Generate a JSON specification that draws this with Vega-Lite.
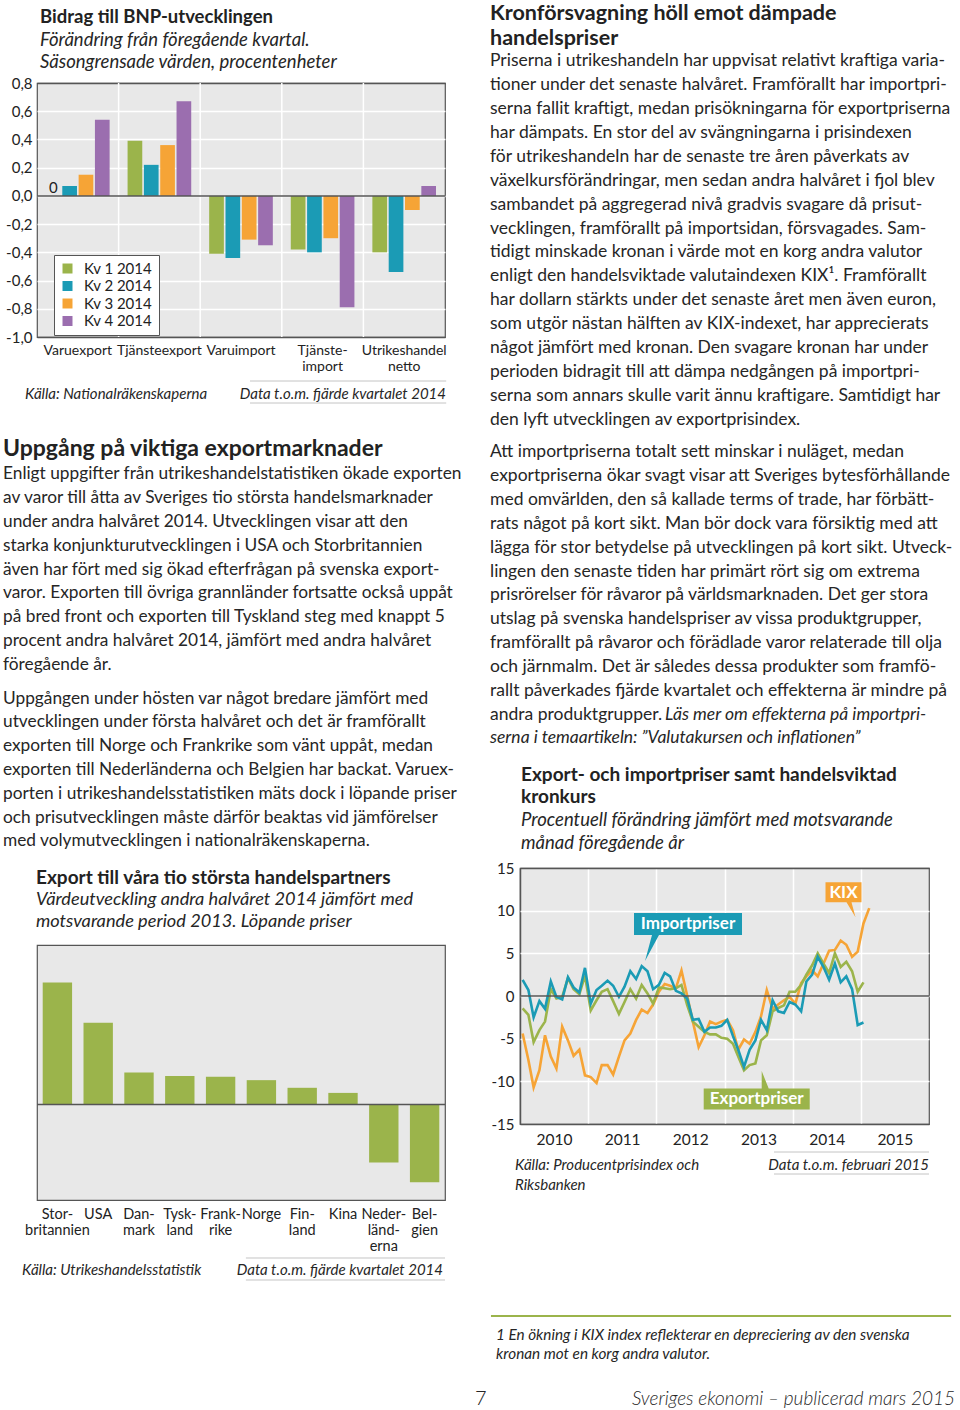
{
"$schema": "https://vega.github.io/schema/vega-lite/v6.json",
"background": "white",
"padding": {"left": 3, "top": 0, "right": 0, "bottom": 0},
"config": {
  "view": {"stroke": null},
  "font": "Lato",
  "axis": {"labelFont": "Lato", "labelColor": "#222222"},
  "legend": {"labelFont": "Lato"},
  "text": {"font": "Lato", "color": "#262626", "align": "left", "baseline": "middle", "dy": 1.5}
},
"datasets": {
 "bnp": [
 {"komponent": "Varuexport", "kvartal": "Kv 1 2014", "varde": 0},
 {"komponent": "Varuexport", "kvartal": "Kv 2 2014", "varde": 0.07},
 {"komponent": "Varuexport", "kvartal": "Kv 3 2014", "varde": 0.15},
 {"komponent": "Varuexport", "kvartal": "Kv 4 2014", "varde": 0.54},
 {"komponent": "Tjänsteexport", "kvartal": "Kv 1 2014", "varde": 0.39},
 {"komponent": "Tjänsteexport", "kvartal": "Kv 2 2014", "varde": 0.22},
 {"komponent": "Tjänsteexport", "kvartal": "Kv 3 2014", "varde": 0.36},
 {"komponent": "Tjänsteexport", "kvartal": "Kv 4 2014", "varde": 0.67},
 {"komponent": "Varuimport", "kvartal": "Kv 1 2014", "varde": -0.41},
 {"komponent": "Varuimport", "kvartal": "Kv 2 2014", "varde": -0.44},
 {"komponent": "Varuimport", "kvartal": "Kv 3 2014", "varde": -0.31},
 {"komponent": "Varuimport", "kvartal": "Kv 4 2014", "varde": -0.35},
 {"komponent": "Tjänsteimport", "kvartal": "Kv 1 2014", "varde": -0.38},
 {"komponent": "Tjänsteimport", "kvartal": "Kv 2 2014", "varde": -0.40},
 {"komponent": "Tjänsteimport", "kvartal": "Kv 3 2014", "varde": -0.30},
 {"komponent": "Tjänsteimport", "kvartal": "Kv 4 2014", "varde": -0.79},
 {"komponent": "Utrikeshandel netto", "kvartal": "Kv 1 2014", "varde": -0.40},
 {"komponent": "Utrikeshandel netto", "kvartal": "Kv 2 2014", "varde": -0.54},
 {"komponent": "Utrikeshandel netto", "kvartal": "Kv 3 2014", "varde": -0.10},
 {"komponent": "Utrikeshandel netto", "kvartal": "Kv 4 2014", "varde": 0.07}
 ]
},
"resolve": {"scale": {"color": "independent", "shape": "independent"}, "legend": {"color": "independent", "shape": "independent"}},
"spacing": 13,
"hconcat": [
{
"spacing": 0, "bounds": "flush",
"resolve": {"scale": {"color": "independent"}, "legend": {"color": "independent"}},
"vconcat": [
{
"width": 408, "height": 83,
"layer": [
{"data": {"values": [{"n": 0, "t": "Bidrag till BNP-utvecklingen"}]},
 "mark": {"type": "text", "fontSize": 18.5, "fontWeight": "bold", "color": "#222222", "dx": 3},
 "encoding": {"x": {"datum": 0, "type": "quantitative", "scale": {"domain": [0, 1]}, "axis": null},
  "y": {"field": "n", "type": "quantitative", "scale": {"domain": [-0.719, 3.011], "reverse": true, "nice": false, "zero": false}, "axis": null},
  "text": {"field": "t"}}},
{"data": {"values": [{"n": 1, "t": "Förändring från föregående kvartal."}, {"n": 2, "t": "Säsongrensade värden, procentenheter"}]},
 "mark": {"type": "text", "fontSize": 18.5, "fontStyle": "italic", "dx": 3},
 "encoding": {"x": {"datum": 0, "type": "quantitative", "scale": {"domain": [0, 1]}, "axis": null},
  "y": {"field": "n", "type": "quantitative", "scale": {"domain": [-0.719, 3.011], "reverse": true, "nice": false, "zero": false}, "axis": null},
  "text": {"field": "t"}}}
]
},
{
"width": 408, "height": 254,
"view": {"fill": "#e8e8e8", "stroke": "#555555", "strokeWidth": 1.2},
"layer": [
{"data": {"name": "bnp"},
 "mark": {"type": "bar"},
 "encoding": {
  "x": {"field": "komponent", "type": "nominal", "sort": ["Varuexport", "Tjänsteexport", "Varuimport", "Tjänsteimport", "Utrikeshandel netto"], "scale": {"paddingInner": 0, "paddingOuter": 0},
   "axis": {"title": null, "labelAngle": 0, "ticks": false, "domain": false, "grid": false, "labelFontSize": 14, "labelPadding": 6, "labelLineHeight": 16.5,
    "labelExpr": "datum.label == 'Tjänsteimport' ? ['Tjänste-', 'import'] : datum.label == 'Utrikeshandel netto' ? ['Utrikeshandel', 'netto'] : datum.label"}},
  "xOffset": {"field": "kvartal", "type": "nominal", "sort": ["Kv 1 2014", "Kv 2 2014", "Kv 3 2014", "Kv 4 2014"], "scale": {"paddingInner": 0.1, "paddingOuter": 0.55}},
  "y": {"field": "varde", "type": "quantitative", "scale": {"domain": [-1, 0.8], "nice": false},
   "axis": {"title": null, "values": [-1, -0.8, -0.6, -0.4, -0.2, 0, 0.2, 0.4, 0.6, 0.8],
    "labelExpr": "replace(replace(format(datum.value, '.1f'), '.', ','), '−', '-')", "labelOverlap": false,
    "grid": true, "gridColor": {"condition": {"test": "datum.value < -0.99 || datum.value > 0.79", "value": "#555555"}, "value": "#ffffff"}, "gridWidth": 1.5,
    "ticks": false, "domain": false, "labelFontSize": 15, "labelPadding": 5}},
  "color": {"field": "kvartal", "type": "nominal",
   "scale": {"domain": ["Kv 1 2014", "Kv 2 2014", "Kv 3 2014", "Kv 4 2014"], "range": ["#9bb44b", "#1b9bb5", "#f6a436", "#9b6eaf"]},
   "legend": {"orient": "none", "legendX": 17, "legendY": 172, "title": null, "fillColor": "#ffffff", "strokeColor": "#555555", "padding": 6,
    "symbolType": "square", "symbolSize": 100, "symbolStrokeWidth": 0, "labelFontSize": 15, "labelColor": "#222222", "rowPadding": 1.5, "labelOffset": 9}}
 }},
{"data": {"name": "bnp"},
 "transform": [{"filter": "datum.kvartal == 'Kv 1 2014' && datum.komponent != 'Varuexport'"}],
 "mark": {"type": "rule", "color": "#ffffff", "strokeWidth": 1.5},
 "encoding": {"x": {"field": "komponent", "type": "nominal", "bandPosition": 0, "sort": ["Varuexport", "Tjänsteexport", "Varuimport", "Tjänsteimport", "Utrikeshandel netto"], "scale": {"paddingInner": 0, "paddingOuter": 0},
   "axis": {"title": null, "labelAngle": 0, "ticks": false, "domain": false, "grid": false, "labelFontSize": 14, "labelPadding": 6, "labelLineHeight": 16.5,
    "labelExpr": "datum.label == 'Tjänsteimport' ? ['Tjänste-', 'import'] : datum.label == 'Utrikeshandel netto' ? ['Utrikeshandel', 'netto'] : datum.label"}}}},
{"data": {"values": [{}]},
 "mark": {"type": "rule", "color": "#555555", "strokeWidth": 1.5},
 "encoding": {"y": {"datum": 0, "type": "quantitative", "scale": {"domain": [-1, 0.8], "nice": false},
   "axis": {"title": null, "values": [-1, -0.8, -0.6, -0.4, -0.2, 0, 0.2, 0.4, 0.6, 0.8],
    "labelExpr": "replace(replace(format(datum.value, '.1f'), '.', ','), '−', '-')", "labelOverlap": false,
    "grid": true, "gridColor": {"condition": {"test": "datum.value < -0.99 || datum.value > 0.79", "value": "#555555"}, "value": "#ffffff"}, "gridWidth": 1.5,
    "ticks": false, "domain": false, "labelFontSize": 15, "labelPadding": 5}}}},
{"data": {"name": "bnp"},
 "transform": [{"filter": "datum.varde == 0"}],
 "mark": {"type": "text", "fontSize": 15, "align": "center", "baseline": "alphabetic", "dy": -3, "color": "#222222"},
 "encoding": {
  "x": {"field": "komponent", "type": "nominal", "sort": ["Varuexport", "Tjänsteexport", "Varuimport", "Tjänsteimport", "Utrikeshandel netto"], "scale": {"paddingInner": 0, "paddingOuter": 0},
   "axis": {"title": null, "labelAngle": 0, "ticks": false, "domain": false, "grid": false, "labelFontSize": 14, "labelPadding": 6, "labelLineHeight": 16.5,
    "labelExpr": "datum.label == 'Tjänsteimport' ? ['Tjänste-', 'import'] : datum.label == 'Utrikeshandel netto' ? ['Utrikeshandel', 'netto'] : datum.label"}},
  "xOffset": {"field": "kvartal", "type": "nominal", "sort": ["Kv 1 2014", "Kv 2 2014", "Kv 3 2014", "Kv 4 2014"], "scale": {"paddingInner": 0.1, "paddingOuter": 0.55}},
  "y": {"field": "varde", "type": "quantitative", "scale": {"domain": [-1, 0.8], "nice": false},
   "axis": {"title": null, "values": [-1, -0.8, -0.6, -0.4, -0.2, 0, 0.2, 0.4, 0.6, 0.8],
    "labelExpr": "replace(replace(format(datum.value, '.1f'), '.', ','), '−', '-')", "labelOverlap": false,
    "grid": true, "gridColor": {"condition": {"test": "datum.value < -0.99 || datum.value > 0.79", "value": "#555555"}, "value": "#ffffff"}, "gridWidth": 1.5,
    "ticks": false, "domain": false, "labelFontSize": 15, "labelPadding": 5}},
  "text": {"value": "0"}}}
]
},
{
"width": 408, "height": 99,
"layer": [
{"data": {"values": [{"n": 0, "t": "Källa: Nationalräkenskaperna"}]},
 "mark": {"type": "text", "fontSize": 15, "fontStyle": "italic", "dx": -12},
 "encoding": {"x": {"datum": 0, "type": "quantitative", "scale": {"domain": [0, 1]}, "axis": null},
  "y": {"field": "n", "type": "quantitative", "scale": {"domain": [-2.5, 2.0], "reverse": true, "nice": false, "zero": false}, "axis": null},
  "text": {"field": "t"}}},
{"data": {"values": [{"n": 0, "t": "Data t.o.m. fjärde kvartalet 2014"}]},
 "mark": {"type": "text", "fontSize": 15, "fontStyle": "italic", "align": "right", "dx": 1},
 "encoding": {"x": {"datum": 1, "type": "quantitative", "scale": {"domain": [0, 1]}, "axis": null},
  "y": {"field": "n", "type": "quantitative", "scale": {"domain": [-2.5, 2.0], "reverse": true, "nice": false, "zero": false}, "axis": null},
  "text": {"field": "t"}}},
{"data": {"values": [{}]},
 "mark": {"type": "rule", "color": "#c4c4c4", "strokeWidth": 1},
 "encoding": {"x": {"datum": 0.522, "type": "quantitative", "scale": {"domain": [0, 1]}, "axis": null}, "x2": {"datum": 1.003},
  "y": {"datum": -0.5, "type": "quantitative", "scale": {"domain": [-2.5, 2.0], "reverse": true, "nice": false, "zero": false}, "axis": null}}},
{"data": {"values": [{}]},
 "mark": {"type": "rule", "color": "#c4c4c4", "strokeWidth": 1},
 "encoding": {"x": {"datum": 0.522, "type": "quantitative", "scale": {"domain": [0, 1]}, "axis": null}, "x2": {"datum": 1.003},
  "y": {"datum": 0.5, "type": "quantitative", "scale": {"domain": [-2.5, 2.0], "reverse": true, "nice": false, "zero": false}, "axis": null}}}
]
},
{
"width": 408, "height": 25,
"data": {"values": [{"n": 0, "t": "Uppgång på viktiga exportmarknader"}]},
"mark": {"type": "text", "fontSize": 23, "fontWeight": "bold", "color": "#222222", "dx": -34},
"encoding": {"x": {"datum": 0, "type": "quantitative", "scale": {"domain": [0, 1]}, "axis": null},
 "y": {"field": "n", "type": "quantitative", "scale": {"domain": [-0.5, 0.5417], "reverse": true, "nice": false, "zero": false}, "axis": null},
 "text": {"field": "t"}}
},
{
"width": 408, "height": 224,
"data": {"values": [
 {"n": 0, "t": "Enligt uppgifter från utrikeshandelstatistiken ökade exporten"},
 {"n": 1, "t": "av varor till åtta av Sveriges tio största handelsmarknader"},
 {"n": 2, "t": "under andra halvåret 2014. Utvecklingen visar att den"},
 {"n": 3, "t": "starka konjunkturutvecklingen i USA och Storbritannien"},
 {"n": 4, "t": "även har fört med sig ökad efterfrågan på svenska export-"},
 {"n": 5, "t": "varor. Exporten till övriga grannländer fortsatte också uppåt"},
 {"n": 6, "t": "på bred front och exporten till Tyskland steg med knappt 5"},
 {"n": 7, "t": "procent andra halvåret 2014, jämfört med andra halvåret"},
 {"n": 8, "t": "föregående år."}
]},
"mark": {"type": "text", "fontSize": 17.3, "dx": -34},
"encoding": {"x": {"datum": 0, "type": "quantitative", "scale": {"domain": [0, 1]}, "axis": null},
 "y": {"field": "n", "type": "quantitative", "scale": {"domain": [-0.505, 8.926], "reverse": true, "nice": false, "zero": false}, "axis": null},
 "text": {"field": "t"}}
},
{
"width": 408, "height": 181,
"data": {"values": [
 {"n": 0, "t": "Uppgången under hösten var något bredare jämfört med"},
 {"n": 1, "t": "utvecklingen under första halvåret och det är framförallt"},
 {"n": 2, "t": "exporten till Norge och Frankrike som vänt uppåt, medan"},
 {"n": 3, "t": "exporten till Nederländerna och Belgien har backat. Varuex-"},
 {"n": 4, "t": "porten i utrikeshandelsstatistiken mäts dock i löpande priser"},
 {"n": 5, "t": "och prisutvecklingen måste därför beaktas vid jämförelser"},
 {"n": 6, "t": "med volymutvecklingen i nationalräkenskaperna."}
]},
"mark": {"type": "text", "fontSize": 17.3, "dx": -34},
"encoding": {"x": {"datum": 0, "type": "quantitative", "scale": {"domain": [0, 1]}, "axis": null},
 "y": {"field": "n", "type": "quantitative", "scale": {"domain": [-0.5036, 7.092], "reverse": true, "nice": false, "zero": false}, "axis": null},
 "text": {"field": "t"}}
},
{
"width": 408, "height": 79,
"layer": [
{"data": {"values": [{"n": 0, "t": "Export till våra tio största handelspartners"}]},
 "mark": {"type": "text", "fontSize": 19, "fontWeight": "bold", "color": "#222222", "dx": -1},
 "encoding": {"x": {"datum": 0, "type": "quantitative", "scale": {"domain": [0, 1]}, "axis": null},
  "y": {"field": "n", "type": "quantitative", "scale": {"domain": [-0.4545, 3.136], "reverse": true, "nice": false, "zero": false}, "axis": null},
  "text": {"field": "t"}}},
{"data": {"values": [{"n": 1, "t": "Värdeutveckling andra halvåret 2014 jämfört med"}, {"n": 2, "t": "motsvarande period 2013. Löpande priser"}]},
 "mark": {"type": "text", "fontSize": 18.2, "fontStyle": "italic", "dx": -1},
 "encoding": {"x": {"datum": 0, "type": "quantitative", "scale": {"domain": [0, 1]}, "axis": null},
  "y": {"field": "n", "type": "quantitative", "scale": {"domain": [-0.4545, 3.136], "reverse": true, "nice": false, "zero": false}, "axis": null},
  "text": {"field": "t"}}}
]
},
{
"width": 408, "height": 255,
"view": {"fill": "#e8e8e8", "stroke": "#555555", "strokeWidth": 1.2},
"layer": [
{"data": {"values": [
  {"land": "Storbritannien", "forandring": 19.1},
  {"land": "USA", "forandring": 12.8},
  {"land": "Danmark", "forandring": 5.0},
  {"land": "Tyskland", "forandring": 4.45},
  {"land": "Frankrike", "forandring": 4.35},
  {"land": "Norge", "forandring": 3.8},
  {"land": "Finland", "forandring": 2.6},
  {"land": "Kina", "forandring": 1.8},
  {"land": "Nederländerna", "forandring": -9.1},
  {"land": "Belgien", "forandring": -12.2}
 ]},
 "mark": {"type": "bar", "color": "#9bb44b"},
 "encoding": {
  "x": {"field": "land", "type": "nominal", "sort": null, "scale": {"paddingInner": 0.28, "paddingOuter": 0.14},
   "axis": {"title": null, "labelAngle": 0, "ticks": false, "domain": false, "grid": false, "labelFontSize": 14.5, "labelPadding": 7, "labelLineHeight": 16,
    "labelExpr": "datum.label == 'Storbritannien' ? ['Stor-', 'britannien'] : datum.label == 'Danmark' ? ['Dan-', 'mark'] : datum.label == 'Tyskland' ? ['Tysk-', 'land'] : datum.label == 'Frankrike' ? ['Frank-', 'rike'] : datum.label == 'Finland' ? ['Fin-', 'land'] : datum.label == 'Nederländerna' ? ['Neder-', 'länd-', 'erna'] : datum.label == 'Belgien' ? ['Bel-', 'gien'] : datum.label"}},
  "y": {"field": "forandring", "type": "quantitative", "scale": {"domain": [-15, 25], "nice": false},
   "axis": {"title": null, "values": [-15, -10, -5, 0, 5, 10, 15, 20, 25],
    "labelExpr": "replace(format(datum.value, 'd'), '−', '-')", "labelOverlap": false,
    "grid": true, "gridColor": {"condition": {"test": "datum.value < -14 || datum.value > 24", "value": "#555555"}, "value": "#ffffff"}, "gridWidth": 1.5,
    "ticks": false, "domain": false, "labelFontSize": 15, "labelPadding": 6}}
 }},
{"data": {"values": [{}]},
 "mark": {"type": "rule", "color": "#555555", "strokeWidth": 1.5},
 "encoding": {"y": {"datum": 0, "type": "quantitative", "scale": {"domain": [-15, 25], "nice": false}, "axis": null}}}
]
},
{
"width": 408, "height": 210,
"layer": [
{"data": {"values": [{"n": 0, "t": "Källa: Utrikeshandelsstatistik"}]},
 "mark": {"type": "text", "fontSize": 15, "fontStyle": "italic", "dx": -15},
 "encoding": {"x": {"datum": 0, "type": "quantitative", "scale": {"domain": [0, 1]}, "axis": null},
  "y": {"field": "n", "type": "quantitative", "scale": {"domain": [-3.136, 6.409], "reverse": true, "nice": false, "zero": false}, "axis": null},
  "text": {"field": "t"}}},
{"data": {"values": [{"n": 0, "t": "Data t.o.m. fjärde kvartalet 2014"}]},
 "mark": {"type": "text", "fontSize": 15, "fontStyle": "italic", "align": "right", "dx": -2},
 "encoding": {"x": {"datum": 1, "type": "quantitative", "scale": {"domain": [0, 1]}, "axis": null},
  "y": {"field": "n", "type": "quantitative", "scale": {"domain": [-3.136, 6.409], "reverse": true, "nice": false, "zero": false}, "axis": null},
  "text": {"field": "t"}}},
{"data": {"values": [{}]},
 "mark": {"type": "rule", "color": "#c4c4c4", "strokeWidth": 1},
 "encoding": {"x": {"datum": 0.512, "type": "quantitative", "scale": {"domain": [0, 1]}, "axis": null}, "x2": {"datum": 1.0},
  "y": {"datum": -0.5, "type": "quantitative", "scale": {"domain": [-3.136, 6.409], "reverse": true, "nice": false, "zero": false}, "axis": null}}},
{"data": {"values": [{}]},
 "mark": {"type": "rule", "color": "#c4c4c4", "strokeWidth": 1},
 "encoding": {"x": {"datum": 0.512, "type": "quantitative", "scale": {"domain": [0, 1]}, "axis": null}, "x2": {"datum": 1.0},
  "y": {"datum": 0.5, "type": "quantitative", "scale": {"domain": [-3.136, 6.409], "reverse": true, "nice": false, "zero": false}, "axis": null}}}
]
}
]
},
{
"spacing": 0, "bounds": "flush",
"vconcat": [
{
"width": 409, "height": 48,
"data": {"values": [{"n": 0, "t": "Kronförsvagning höll emot dämpade"}, {"n": 1, "t": "handelspriser"}]},
"mark": {"type": "text", "fontSize": 21.5, "fontWeight": "bold", "color": "#222222", "dx": -30, "dy": 2},
"encoding": {"x": {"datum": 0, "type": "quantitative", "scale": {"domain": [0, 1]}, "axis": null},
 "y": {"field": "n", "type": "quantitative", "scale": {"domain": [-0.5102, 1.449], "reverse": true, "nice": false, "zero": false}, "axis": null},
 "text": {"field": "t"}}
},
{
"width": 409, "height": 390,
"data": {"values": [
 {"n": 0, "t": "Priserna i utrikeshandeln har uppvisat relativt kraftiga varia-"},
 {"n": 1, "t": "tioner under det senaste halvåret. Framförallt har importpri-"},
 {"n": 2, "t": "serna fallit kraftigt, medan prisökningarna för exportpriserna"},
 {"n": 3, "t": "har dämpats. En stor del av svängningarna i prisindexen"},
 {"n": 4, "t": "för utrikeshandeln har de senaste tre åren påverkats av"},
 {"n": 5, "t": "växelkursförändringar, men sedan andra halvåret i fjol blev"},
 {"n": 6, "t": "sambandet på aggregerad nivå gradvis svagare då prisut-"},
 {"n": 7, "t": "vecklingen, framförallt på importsidan, försvagades. Sam-"},
 {"n": 8, "t": "tidigt minskade kronan i värde mot en korg andra valutor"},
 {"n": 9, "t": "enligt den handelsviktade valutaindexen KIX¹. Framförallt"},
 {"n": 10, "t": "har dollarn stärkts under det senaste året men även euron,"},
 {"n": 11, "t": "som utgör nästan hälften av KIX-indexet, har apprecierats"},
 {"n": 12, "t": "något jämfört med kronan. Den svagare kronan har under"},
 {"n": 13, "t": "perioden bidragit till att dämpa nedgången på importpri-"},
 {"n": 14, "t": "serna som annars skulle varit ännu kraftigare. Samtidigt har"},
 {"n": 15, "t": "den lyft utvecklingen av exportprisindex."}
]},
"mark": {"type": "text", "fontSize": 17.5, "dx": -30},
"encoding": {"x": {"datum": 0, "type": "quantitative", "scale": {"domain": [0, 1]}, "axis": null},
 "y": {"field": "n", "type": "quantitative", "scale": {"domain": [-0.5027, 15.836], "reverse": true, "nice": false, "zero": false}, "axis": null},
 "text": {"field": "t"}}
},
{
"width": 409, "height": 322,
"layer": [
{"data": {"values": [
 {"n": 0, "t": "Att importpriserna totalt sett minskar i nuläget, medan"},
 {"n": 1, "t": "exportpriserna ökar svagt visar att Sveriges bytesförhållande"},
 {"n": 2, "t": "med omvärlden, den så kallade terms of trade, har förbätt-"},
 {"n": 3, "t": "rats något på kort sikt. Man bör dock vara försiktig med att"},
 {"n": 4, "t": "lägga för stor betydelse på utvecklingen på kort sikt. Utveck-"},
 {"n": 5, "t": "lingen den senaste tiden har primärt rört sig om extrema"},
 {"n": 6, "t": "prisrörelser för råvaror på världsmarknaden. Det ger stora"},
 {"n": 7, "t": "utslag på svenska handelspriser av vissa produktgrupper,"},
 {"n": 8, "t": "framförallt på råvaror och förädlade varor relaterade till olja"},
 {"n": 9, "t": "och järnmalm. Det är således dessa produkter som framfö-"},
 {"n": 10, "t": "rallt påverkades fjärde kvartalet och effekterna är mindre på"},
 {"n": 11, "t": "andra produktgrupper."}
 ]},
 "mark": {"type": "text", "fontSize": 17.5, "dx": -30},
 "encoding": {"x": {"datum": 0, "type": "quantitative", "scale": {"domain": [0, 1]}, "axis": null},
  "y": {"field": "n", "type": "quantitative", "scale": {"domain": [-0.5455, 12.967], "reverse": true, "nice": false, "zero": false}, "axis": null},
  "text": {"field": "t"}}},
{"data": {"values": [{"n": 11, "t": "Läs mer om effekterna på importpri-"}]},
 "mark": {"type": "text", "fontSize": 17.5, "fontStyle": "italic", "dx": 145},
 "encoding": {"x": {"datum": 0, "type": "quantitative", "scale": {"domain": [0, 1]}, "axis": null},
  "y": {"field": "n", "type": "quantitative", "scale": {"domain": [-0.5455, 12.967], "reverse": true, "nice": false, "zero": false}, "axis": null},
  "text": {"field": "t"}}},
{"data": {"values": [{"n": 12, "t": "serna i temaartikeln: ”Valutakursen och inflationen”"}]},
 "mark": {"type": "text", "fontSize": 17.5, "fontStyle": "italic", "dx": -30},
 "encoding": {"x": {"datum": 0, "type": "quantitative", "scale": {"domain": [0, 1]}, "axis": null},
  "y": {"field": "n", "type": "quantitative", "scale": {"domain": [-0.5455, 12.967], "reverse": true, "nice": false, "zero": false}, "axis": null},
  "text": {"field": "t"}}}
]
},
{
"width": 409, "height": 108,
"layer": [
{"data": {"values": [{"n": 0, "t": "Export- och importpriser samt handelsviktad"}, {"n": 1, "t": "kronkurs"}]},
 "mark": {"type": "text", "fontSize": 19, "fontWeight": "bold", "color": "#222222", "dx": 1},
 "encoding": {"x": {"datum": 0, "type": "quantitative", "scale": {"domain": [0, 1]}, "axis": null},
  "y": {"field": "n", "type": "quantitative", "scale": {"domain": [-0.5735, 4.19], "reverse": true, "nice": false, "zero": false}, "axis": null},
  "text": {"field": "t"}}},
{"data": {"values": [{"n": 2, "t": "Procentuell förändring jämfört med motsvarande"}, {"n": 3, "t": "månad föregående år"}]},
 "mark": {"type": "text", "fontSize": 18.5, "fontStyle": "italic", "dx": 1},
 "encoding": {"x": {"datum": 0, "type": "quantitative", "scale": {"domain": [0, 1]}, "axis": null},
  "y": {"field": "n", "type": "quantitative", "scale": {"domain": [-0.5735, 4.19], "reverse": true, "nice": false, "zero": false}, "axis": null},
  "text": {"field": "t"}}}
]
},
{
"width": 409, "height": 256,
"view": {"fill": "#e8e8e8", "stroke": "#555555", "strokeWidth": 1.2},
"layer": [
{"data": {"values": [
{"serie":"KIX","manad":"2010-01-15","varde":-4.4},{"serie":"KIX","manad":"2010-02-15","varde":-7.5},{"serie":"KIX","manad":"2010-03-15","varde":-10.7},{"serie":"KIX","manad":"2010-04-15","varde":-8.7},{"serie":"KIX","manad":"2010-05-15","varde":-4.6},{"serie":"KIX","manad":"2010-06-15","varde":-7.1},{"serie":"KIX","manad":"2010-07-15","varde":-8.5},{"serie":"KIX","manad":"2010-08-15","varde":-3.6},{"serie":"KIX","manad":"2010-09-15","varde":-5.2},{"serie":"KIX","manad":"2010-10-15","varde":-7.0},{"serie":"KIX","manad":"2010-11-15","varde":-6.3},{"serie":"KIX","manad":"2010-12-15","varde":-9.3},
{"serie":"KIX","manad":"2011-01-15","varde":-9.5},{"serie":"KIX","manad":"2011-02-15","varde":-10.2},{"serie":"KIX","manad":"2011-03-15","varde":-8.1},{"serie":"KIX","manad":"2011-04-15","varde":-8.1},{"serie":"KIX","manad":"2011-05-15","varde":-9.2},{"serie":"KIX","manad":"2011-06-15","varde":-7.1},{"serie":"KIX","manad":"2011-07-15","varde":-5.2},{"serie":"KIX","manad":"2011-08-15","varde":-4.4},{"serie":"KIX","manad":"2011-09-15","varde":-2.8},{"serie":"KIX","manad":"2011-10-15","varde":-1.6},{"serie":"KIX","manad":"2011-11-15","varde":-2.0},{"serie":"KIX","manad":"2011-12-15","varde":-1.0},
{"serie":"KIX","manad":"2012-01-15","varde":0.5},{"serie":"KIX","manad":"2012-02-15","varde":1.4},{"serie":"KIX","manad":"2012-03-15","varde":1.2},{"serie":"KIX","manad":"2012-04-15","varde":0.9},{"serie":"KIX","manad":"2012-05-15","varde":3.0},{"serie":"KIX","manad":"2012-06-15","varde":0.0},{"serie":"KIX","manad":"2012-07-15","varde":-3.0},{"serie":"KIX","manad":"2012-08-15","varde":-6.0},{"serie":"KIX","manad":"2012-09-15","varde":-4.6},{"serie":"KIX","manad":"2012-10-15","varde":-3.0},{"serie":"KIX","manad":"2012-11-15","varde":-3.3},{"serie":"KIX","manad":"2012-12-15","varde":-3.0},
{"serie":"KIX","manad":"2013-01-15","varde":-2.8},{"serie":"KIX","manad":"2013-02-15","varde":-4.0},{"serie":"KIX","manad":"2013-03-15","varde":-6.3},{"serie":"KIX","manad":"2013-04-15","varde":-5.1},{"serie":"KIX","manad":"2013-05-15","varde":-5.6},{"serie":"KIX","manad":"2013-06-15","varde":-4.2},{"serie":"KIX","manad":"2013-07-15","varde":-2.4},{"serie":"KIX","manad":"2013-08-15","varde":0.7},{"serie":"KIX","manad":"2013-09-15","varde":-1.5},{"serie":"KIX","manad":"2013-10-15","varde":-1.0},{"serie":"KIX","manad":"2013-11-15","varde":-0.5},{"serie":"KIX","manad":"2013-12-15","varde":-0.1},
{"serie":"KIX","manad":"2014-01-15","varde":-0.9},{"serie":"KIX","manad":"2014-02-15","varde":1.5},{"serie":"KIX","manad":"2014-03-15","varde":2.3},{"serie":"KIX","manad":"2014-04-15","varde":3.0},{"serie":"KIX","manad":"2014-05-15","varde":2.3},{"serie":"KIX","manad":"2014-06-15","varde":3.8},{"serie":"KIX","manad":"2014-07-15","varde":5.3},{"serie":"KIX","manad":"2014-08-15","varde":5.4},{"serie":"KIX","manad":"2014-09-15","varde":6.5},{"serie":"KIX","manad":"2014-10-15","varde":6.0},{"serie":"KIX","manad":"2014-11-15","varde":4.6},{"serie":"KIX","manad":"2014-12-15","varde":5.2},
{"serie":"KIX","manad":"2015-01-15","varde":8.5},{"serie":"KIX","manad":"2015-02-15","varde":10.3},
{"serie":"Exportpriser","manad":"2010-01-15","varde":-1.45},{"serie":"Exportpriser","manad":"2010-02-15","varde":-2.2},{"serie":"Exportpriser","manad":"2010-03-15","varde":-5.4},{"serie":"Exportpriser","manad":"2010-04-15","varde":-4.0},{"serie":"Exportpriser","manad":"2010-05-15","varde":-3.0},{"serie":"Exportpriser","manad":"2010-06-15","varde":0.8},{"serie":"Exportpriser","manad":"2010-07-15","varde":-0.3},{"serie":"Exportpriser","manad":"2010-08-15","varde":-0.1},{"serie":"Exportpriser","manad":"2010-09-15","varde":2.1},{"serie":"Exportpriser","manad":"2010-10-15","varde":0.8},{"serie":"Exportpriser","manad":"2010-11-15","varde":0.2},{"serie":"Exportpriser","manad":"2010-12-15","varde":2.4},
{"serie":"Exportpriser","manad":"2011-01-15","varde":-1.7},{"serie":"Exportpriser","manad":"2011-02-15","varde":-0.5},{"serie":"Exportpriser","manad":"2011-03-15","varde":0.5},{"serie":"Exportpriser","manad":"2011-04-15","varde":0.8},{"serie":"Exportpriser","manad":"2011-05-15","varde":-0.6},{"serie":"Exportpriser","manad":"2011-06-15","varde":-2.1},{"serie":"Exportpriser","manad":"2011-07-15","varde":-0.7},{"serie":"Exportpriser","manad":"2011-08-15","varde":0.8},{"serie":"Exportpriser","manad":"2011-09-15","varde":-0.3},{"serie":"Exportpriser","manad":"2011-10-15","varde":1.3},{"serie":"Exportpriser","manad":"2011-11-15","varde":0.3},{"serie":"Exportpriser","manad":"2011-12-15","varde":-0.9},
{"serie":"Exportpriser","manad":"2012-01-15","varde":1.0},{"serie":"Exportpriser","manad":"2012-02-15","varde":0.9},{"serie":"Exportpriser","manad":"2012-03-15","varde":0.8},{"serie":"Exportpriser","manad":"2012-04-15","varde":0.9},{"serie":"Exportpriser","manad":"2012-05-15","varde":1.3},{"serie":"Exportpriser","manad":"2012-06-15","varde":-1.1},{"serie":"Exportpriser","manad":"2012-07-15","varde":-3.0},{"serie":"Exportpriser","manad":"2012-08-15","varde":-3.6},{"serie":"Exportpriser","manad":"2012-09-15","varde":-4.2},{"serie":"Exportpriser","manad":"2012-10-15","varde":-4.5},{"serie":"Exportpriser","manad":"2012-11-15","varde":-4.5},{"serie":"Exportpriser","manad":"2012-12-15","varde":-4.9},
{"serie":"Exportpriser","manad":"2013-01-15","varde":-5.0},{"serie":"Exportpriser","manad":"2013-02-15","varde":-5.6},{"serie":"Exportpriser","manad":"2013-03-15","varde":-7.1},{"serie":"Exportpriser","manad":"2013-04-15","varde":-8.7},{"serie":"Exportpriser","manad":"2013-05-15","varde":-8.1},{"serie":"Exportpriser","manad":"2013-06-15","varde":-7.9},{"serie":"Exportpriser","manad":"2013-07-15","varde":-5.2},{"serie":"Exportpriser","manad":"2013-08-15","varde":-4.6},{"serie":"Exportpriser","manad":"2013-09-15","varde":-1.8},{"serie":"Exportpriser","manad":"2013-10-15","varde":-1.4},{"serie":"Exportpriser","manad":"2013-11-15","varde":-1.1},{"serie":"Exportpriser","manad":"2013-12-15","varde":0.5},
{"serie":"Exportpriser","manad":"2014-01-15","varde":0.5},{"serie":"Exportpriser","manad":"2014-02-15","varde":1.3},{"serie":"Exportpriser","manad":"2014-03-15","varde":2.5},{"serie":"Exportpriser","manad":"2014-04-15","varde":3.6},{"serie":"Exportpriser","manad":"2014-05-15","varde":5.0},{"serie":"Exportpriser","manad":"2014-06-15","varde":3.8},{"serie":"Exportpriser","manad":"2014-07-15","varde":2.7},{"serie":"Exportpriser","manad":"2014-08-15","varde":5.0},{"serie":"Exportpriser","manad":"2014-09-15","varde":3.4},{"serie":"Exportpriser","manad":"2014-10-15","varde":4.0},{"serie":"Exportpriser","manad":"2014-11-15","varde":2.9},{"serie":"Exportpriser","manad":"2014-12-15","varde":0.5},
{"serie":"Exportpriser","manad":"2015-01-15","varde":1.6},
{"serie":"Importpriser","manad":"2010-01-15","varde":1.9},{"serie":"Importpriser","manad":"2010-02-15","varde":0.7},{"serie":"Importpriser","manad":"2010-03-15","varde":-2.5},{"serie":"Importpriser","manad":"2010-04-15","varde":-0.6},{"serie":"Importpriser","manad":"2010-05-15","varde":-1.5},{"serie":"Importpriser","manad":"2010-06-15","varde":1.7},{"serie":"Importpriser","manad":"2010-07-15","varde":-0.1},{"serie":"Importpriser","manad":"2010-08-15","varde":-0.4},{"serie":"Importpriser","manad":"2010-09-15","varde":2.2},{"serie":"Importpriser","manad":"2010-10-15","varde":1.0},{"serie":"Importpriser","manad":"2010-11-15","varde":0.4},{"serie":"Importpriser","manad":"2010-12-15","varde":3.3},
{"serie":"Importpriser","manad":"2011-01-15","varde":-0.9},{"serie":"Importpriser","manad":"2011-02-15","varde":0.7},{"serie":"Importpriser","manad":"2011-03-15","varde":1.2},{"serie":"Importpriser","manad":"2011-04-15","varde":1.8},{"serie":"Importpriser","manad":"2011-05-15","varde":1.2},{"serie":"Importpriser","manad":"2011-06-15","varde":-0.1},{"serie":"Importpriser","manad":"2011-07-15","varde":1.1},{"serie":"Importpriser","manad":"2011-08-15","varde":2.9},{"serie":"Importpriser","manad":"2011-09-15","varde":2.0},{"serie":"Importpriser","manad":"2011-10-15","varde":3.5},{"serie":"Importpriser","manad":"2011-11-15","varde":2.9},{"serie":"Importpriser","manad":"2011-12-15","varde":0.8},
{"serie":"Importpriser","manad":"2012-01-15","varde":1.3},{"serie":"Importpriser","manad":"2012-02-15","varde":2.7},{"serie":"Importpriser","manad":"2012-03-15","varde":2.3},{"serie":"Importpriser","manad":"2012-04-15","varde":0.6},{"serie":"Importpriser","manad":"2012-05-15","varde":0.3},{"serie":"Importpriser","manad":"2012-06-15","varde":-0.3},{"serie":"Importpriser","manad":"2012-07-15","varde":-2.8},{"serie":"Importpriser","manad":"2012-08-15","varde":-2.7},{"serie":"Importpriser","manad":"2012-09-15","varde":-4.2},{"serie":"Importpriser","manad":"2012-10-15","varde":-3.7},{"serie":"Importpriser","manad":"2012-11-15","varde":-3.7},{"serie":"Importpriser","manad":"2012-12-15","varde":-3.5},
{"serie":"Importpriser","manad":"2013-01-15","varde":-2.8},{"serie":"Importpriser","manad":"2013-02-15","varde":-4.7},{"serie":"Importpriser","manad":"2013-03-15","varde":-6.3},{"serie":"Importpriser","manad":"2013-04-15","varde":-8.3},{"serie":"Importpriser","manad":"2013-05-15","varde":-6.3},{"serie":"Importpriser","manad":"2013-06-15","varde":-5.2},{"serie":"Importpriser","manad":"2013-07-15","varde":-2.8},{"serie":"Importpriser","manad":"2013-08-15","varde":-4.0},{"serie":"Importpriser","manad":"2013-09-15","varde":-0.5},{"serie":"Importpriser","manad":"2013-10-15","varde":-1.8},{"serie":"Importpriser","manad":"2013-11-15","varde":-2.0},{"serie":"Importpriser","manad":"2013-12-15","varde":-0.7},
{"serie":"Importpriser","manad":"2014-01-15","varde":-1.0},{"serie":"Importpriser","manad":"2014-02-15","varde":-1.8},{"serie":"Importpriser","manad":"2014-03-15","varde":1.7},{"serie":"Importpriser","manad":"2014-04-15","varde":2.5},{"serie":"Importpriser","manad":"2014-05-15","varde":4.6},{"serie":"Importpriser","manad":"2014-06-15","varde":3.4},{"serie":"Importpriser","manad":"2014-07-15","varde":1.9},{"serie":"Importpriser","manad":"2014-08-15","varde":3.8},{"serie":"Importpriser","manad":"2014-09-15","varde":1.6},{"serie":"Importpriser","manad":"2014-10-15","varde":2.3},{"serie":"Importpriser","manad":"2014-11-15","varde":0.8},{"serie":"Importpriser","manad":"2014-12-15","varde":-3.4},
{"serie":"Importpriser","manad":"2015-01-15","varde":-3.1}
 ]},
 "mark": {"type": "line", "strokeWidth": 2.6},
 "encoding": {
  "x": {"field": "manad", "type": "temporal",
   "scale": {"type": "utc", "domain": [{"year": 2010, "month": 1, "date": 1, "utc": true}, {"year": 2016, "month": 1, "date": 1, "utc": true}], "nice": false},
   "axis": {"title": null, "values": [{"year": 2010, "month": 1, "date": 1, "utc": true}, {"year": 2011, "month": 1, "date": 1, "utc": true}, {"year": 2012, "month": 1, "date": 1, "utc": true}, {"year": 2013, "month": 1, "date": 1, "utc": true}, {"year": 2014, "month": 1, "date": 1, "utc": true}, {"year": 2015, "month": 1, "date": 1, "utc": true}],
    "format": "%Y", "formatType": "utc", "labels": true, "labelOffset": 34, "labelFlush": false, "labelOverlap": false, "labelAlign": "center",
    "grid": true, "gridColor": {"condition": {"test": "utcyear(datum.value) == 2010", "value": "#555555"}, "value": "#ffffff"}, "gridWidth": 1.5,
    "ticks": false, "domain": false, "labelFontSize": 15.5, "labelPadding": 8}},
  "y": {"field": "varde", "type": "quantitative", "scale": {"domain": [-15, 15], "nice": false},
   "axis": {"title": null, "values": [-15, -10, -5, 0, 5, 10, 15],
    "labelExpr": "replace(format(datum.value, 'd'), '−', '-')", "labelOverlap": false,
    "grid": true, "gridColor": {"condition": {"test": "datum.value < -14 || datum.value > 14", "value": "#555555"}, "value": "#ffffff"}, "gridWidth": 1.5,
    "ticks": false, "domain": false, "labelFontSize": 15, "labelPadding": 6}},
  "color": {"field": "serie", "type": "nominal", "scale": {"domain": ["Importpriser", "Exportpriser", "KIX"], "range": ["#1b9bb5", "#9bb44b", "#f6a436"]}, "legend": null}
 }},
{"data": {"values": [{}]},
 "mark": {"type": "rule", "color": "#555555", "strokeWidth": 1.5},
 "encoding": {"y": {"datum": 0, "type": "quantitative", "scale": {"domain": [-15, 15], "nice": false}}}},
{"data": {"values": [
  {"serie": "Importpriser", "manad": "2012-06-19", "varde": 8.45},
  {"serie": "KIX", "manad": "2014-09-30", "varde": 12.15},
  {"serie": "Exportpriser", "manad": "2013-06-22", "varde": -12.07}
 ]},
 "layer": [
  {"mark": {"type": "point", "filled": true, "opacity": 1, "size": 4, "strokeWidth": 0},
   "encoding": {
    "x": {"field": "manad", "type": "temporal", "scale": {"type": "utc", "domain": [{"year": 2010, "month": 1, "date": 1, "utc": true}, {"year": 2016, "month": 1, "date": 1, "utc": true}], "nice": false}},
    "y": {"field": "varde", "type": "quantitative", "scale": {"domain": [-15, 15], "nice": false}},
    "color": {"field": "serie", "type": "nominal", "scale": {"domain": ["Importpriser", "Exportpriser", "KIX"], "range": ["#1b9bb5", "#9bb44b", "#f6a436"]}, "legend": null},
    "shape": {"field": "serie", "type": "nominal", "scale": {"domain": ["Importpriser", "Exportpriser", "KIX"], "range": ["M-54,-11H54V11H-29L-43,37L-36,11H-54Z", "M-53,-10.5H5L5,-28L12,-10.5H53V10.5H-53Z", "M-18,-10H18V10H8L12,25L3,10H-18Z"]}, "legend": null}
   }},
  {"mark": {"type": "text", "align": "center", "baseline": "middle", "color": "#ffffff", "fontWeight": "bold", "fontSize": 17, "dy": 0.5},
   "encoding": {
    "x": {"field": "manad", "type": "temporal", "scale": {"type": "utc", "domain": [{"year": 2010, "month": 1, "date": 1, "utc": true}, {"year": 2016, "month": 1, "date": 1, "utc": true}], "nice": false}},
    "y": {"field": "varde", "type": "quantitative", "scale": {"domain": [-15, 15], "nice": false}},
    "text": {"field": "serie"}
   }}
 ]}
]
},
{
"width": 409, "height": 176,
"layer": [
{"data": {"values": [{"n": 0, "t": "Källa: Producentprisindex och"}, {"n": 1, "t": "Riksbanken"}]},
 "mark": {"type": "text", "fontSize": 15, "fontStyle": "italic", "dx": -5},
 "encoding": {"x": {"datum": 0, "type": "quantitative", "scale": {"domain": [0, 1]}, "axis": null},
  "y": {"field": "n", "type": "quantitative", "scale": {"domain": [-1.95, 6.85], "reverse": true, "nice": false, "zero": false}, "axis": null},
  "text": {"field": "t"}}},
{"data": {"values": [{"n": 0, "t": "Data t.o.m. februari 2015"}]},
 "mark": {"type": "text", "fontSize": 15, "fontStyle": "italic", "align": "right"},
 "encoding": {"x": {"datum": 1, "type": "quantitative", "scale": {"domain": [0, 1]}, "axis": null},
  "y": {"field": "n", "type": "quantitative", "scale": {"domain": [-1.95, 6.85], "reverse": true, "nice": false, "zero": false}, "axis": null},
  "text": {"field": "t"}}},
{"data": {"values": [{}]},
 "mark": {"type": "rule", "color": "#c4c4c4", "strokeWidth": 1},
 "encoding": {"x": {"datum": 0.621, "type": "quantitative", "scale": {"domain": [0, 1]}, "axis": null}, "x2": {"datum": 1.0},
  "y": {"datum": -0.55, "type": "quantitative", "scale": {"domain": [-1.95, 6.85], "reverse": true, "nice": false, "zero": false}, "axis": null}}},
{"data": {"values": [{}]},
 "mark": {"type": "rule", "color": "#c4c4c4", "strokeWidth": 1},
 "encoding": {"x": {"datum": 0.621, "type": "quantitative", "scale": {"domain": [0, 1]}, "axis": null}, "x2": {"datum": 1.0},
  "y": {"datum": 0.55, "type": "quantitative", "scale": {"domain": [-1.95, 6.85], "reverse": true, "nice": false, "zero": false}, "axis": null}}}
]
},
{
"width": 409, "height": 70,
"layer": [
{"data": {"values": [{}]},
 "mark": {"type": "rule", "color": "#9bb44b", "strokeWidth": 2.2},
 "encoding": {"x": {"datum": -0.071, "type": "quantitative", "scale": {"domain": [0, 1]}, "axis": null}, "x2": {"datum": 1.054},
  "y": {"datum": -0.895, "type": "quantitative", "scale": {"domain": [-1.737, 1.947], "reverse": true, "nice": false, "zero": false}, "axis": null}}},
{"data": {"values": [{"n": 0, "t": "1  En ökning i KIX index reflekterar en depreciering av den svenska"}, {"n": 1, "t": "kronan mot en korg andra valutor."}]},
 "mark": {"type": "text", "fontSize": 15.3, "fontStyle": "italic", "dx": -24},
 "encoding": {"x": {"datum": 0, "type": "quantitative", "scale": {"domain": [0, 1]}, "axis": null},
  "y": {"field": "n", "type": "quantitative", "scale": {"domain": [-1.737, 1.947], "reverse": true, "nice": false, "zero": false}, "axis": null},
  "text": {"field": "t"}}}
]
},
{
"width": 409, "height": 40,
"layer": [
{"data": {"values": [{"n": 0, "t": "7"}]},
 "mark": {"type": "text", "fontSize": 20, "fontWeight": 300, "dx": -45},
 "encoding": {"x": {"datum": 0, "type": "quantitative", "scale": {"domain": [0, 1]}, "axis": null},
  "y": {"field": "n", "type": "quantitative", "scale": {"domain": [-1.35, 0.65], "reverse": true, "nice": false, "zero": false}, "axis": null},
  "text": {"field": "t"}}},
{"data": {"values": [{"n": 0, "t": "Sveriges ekonomi – publicerad mars 2015"}]},
 "mark": {"type": "text", "fontSize": 19, "fontWeight": 300, "fontStyle": "italic", "align": "right", "dx": 26},
 "encoding": {"x": {"datum": 1, "type": "quantitative", "scale": {"domain": [0, 1]}, "axis": null},
  "y": {"field": "n", "type": "quantitative", "scale": {"domain": [-1.35, 0.65], "reverse": true, "nice": false, "zero": false}, "axis": null},
  "text": {"field": "t"}}}
]
}
]
}
]
}
